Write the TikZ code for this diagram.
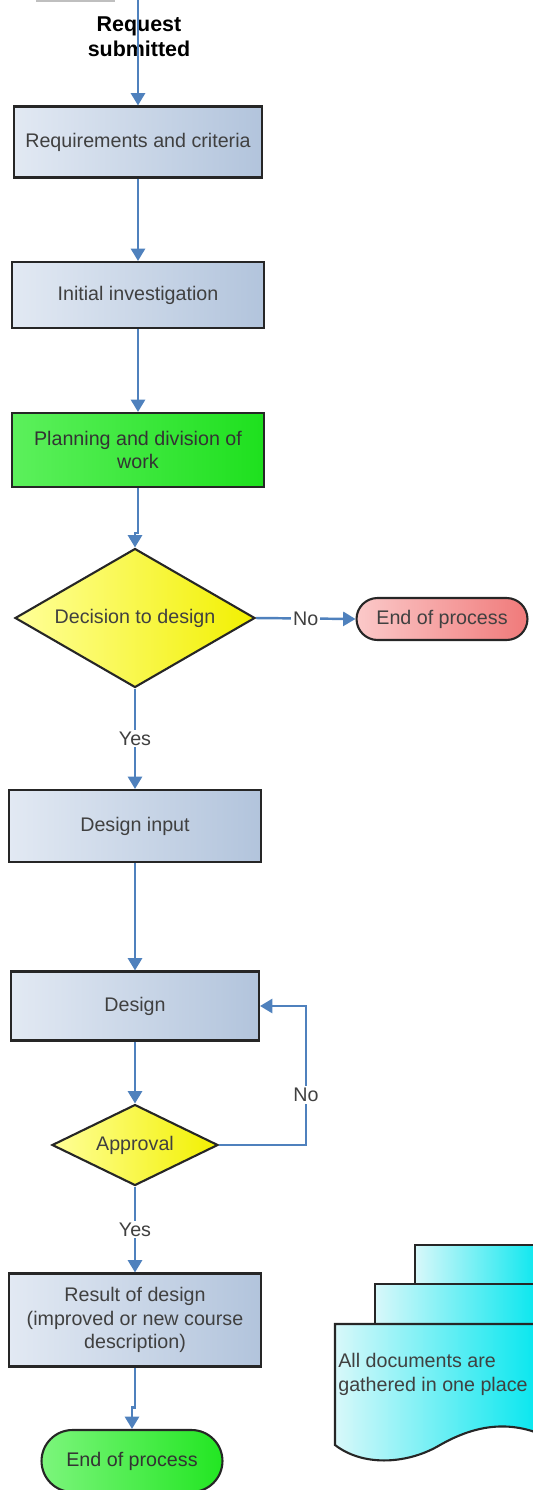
\documentclass[tikz,border=0pt]{standalone}
\usepackage{fontspec}
\setmainfont{Liberation Sans}
\usetikzlibrary{shapes.geometric,shapes.misc,arrows.meta}
\definecolor{flowline}{HTML}{4F81BD}
\definecolor{boxl}{HTML}{E2E9F3}
\definecolor{boxr}{HTML}{B2C4DC}
\definecolor{planl}{HTML}{5CF05C}
\definecolor{planr}{HTML}{1EE01E}
\definecolor{decl}{HTML}{FFFF99}
\definecolor{decr}{HTML}{F2F000}
\definecolor{nol}{HTML}{FBC9C9}
\definecolor{nor}{HTML}{F07A7A}
\definecolor{okl}{HTML}{7CF57C}
\definecolor{okr}{HTML}{22E622}
\definecolor{docl}{HTML}{D8F8FA}
\definecolor{docr}{HTML}{00E6EE}
\begin{document}
\begin{tikzpicture}[x=0.02cm,y=-0.02cm,font=\fontsize{11.2}{13.6}\selectfont,
  outline/.style={draw=black!85,line width=1.2pt,text=black!75,align=center},
  box/.style={outline,minimum width=5.04cm,minimum height=1.4cm,left color=boxl,right color=boxr},
  decide/.style={outline,diamond,inner sep=1pt,left color=decl,right color=decr},
  term/.style={outline,rounded rectangle,inner sep=2pt},
  flow/.style={draw=flowline,line width=1.4pt,-{Triangle[width=8pt,length=7pt]}},
  lbl/.style={fill=white,inner sep=1pt,text=black!75}]
\useasboundingbox (0,0) rectangle (533,1490);
\clip (0,0) rectangle (533,1490);
\draw[gray!50,line width=0.8pt] (37,-20) rectangle (114,1);
\node[font=\bfseries\fontsize{12.2}{14}\selectfont,align=center] (reqtxt) at (139,37) {Request\\submitted};
\coordinate (start) at (138,-2);
\node[box,minimum width=4.96cm,minimum height=1.42cm] (req) at (138,142) {Requirements and criteria};
\node[box,minimum height=1.32cm] (inv) at (138,295) {Initial investigation};
\node[box,minimum height=1.48cm,left color=planl,right color=planr,text=black!80] (plan) at (138,450) {Planning and division of\\work};
\node[decide,aspect=1.73,minimum width=4.8cm,minimum height=2.78cm] (dec) at (135,618) {Decision to design};
\node[term,minimum width=3.56cm,minimum height=0.84cm,left color=nol,right color=nor] (endno) at (442,619) {End of process};
\node[box,minimum height=1.44cm] (din) at (135,826) {Design input};
\node[box,minimum width=4.96cm,minimum height=1.38cm] (des) at (135,1006) {Design};
\node[decide,aspect=2.05,minimum width=3.32cm,minimum height=1.62cm] (appr) at (135,1145) {Approval};
\node[box,minimum height=1.86cm] (res) at (135,1320) {Result of design\\(improved or new course\\description)};
\node[term,minimum width=3.76cm,minimum height=1.24cm,left color=okl,right color=okr,text=black!80] (endok) at (132,1461) {End of process};
\draw[outline,left color=docl,right color=docr] (415,1245) rectangle (545,1300);
\draw[outline,left color=docl,right color=docr] (375,1284) rectangle (545,1340);
\draw[outline,left color=docl,right color=docr] (335,1324) -- (545,1324) -- (545,1436) .. controls (505,1418) and (470,1428) .. (440,1445) .. controls (410,1463) and (365,1468) .. (335,1445) -- cycle;
\node[anchor=west,align=left,text=black!75,inner sep=0pt] (doctxt) at (338,1374) {All documents are\\gathered in one place};
\draw[flow] (start) -- (req.north);
\draw[flow] (req.south) -- (inv.north);
\draw[flow] (inv.south) -- (plan.north);
\draw[flow] (plan.south) -- ++(0,45) -| (dec.north);
\draw[flow] (dec.east) -- node[lbl] (lblno) {No} (endno.west);
\draw[flow] (dec.south) -- node[lbl] (lblyes) {Yes} (din.north);
\draw[flow] (din.south) -- (des.north);
\draw[flow] (des.south) -- (appr.north);
\draw[flow] (appr.east) -- ++(87,0) |- node[lbl,pos=0.18] (lblredo) {No} (des.east);
\draw[flow] (appr.south) -- node[lbl] (lblok) {Yes} (res.north);
\draw[flow] (res.south) -- ++(0,40) -| (endok.north);
\end{tikzpicture}
\end{document}
